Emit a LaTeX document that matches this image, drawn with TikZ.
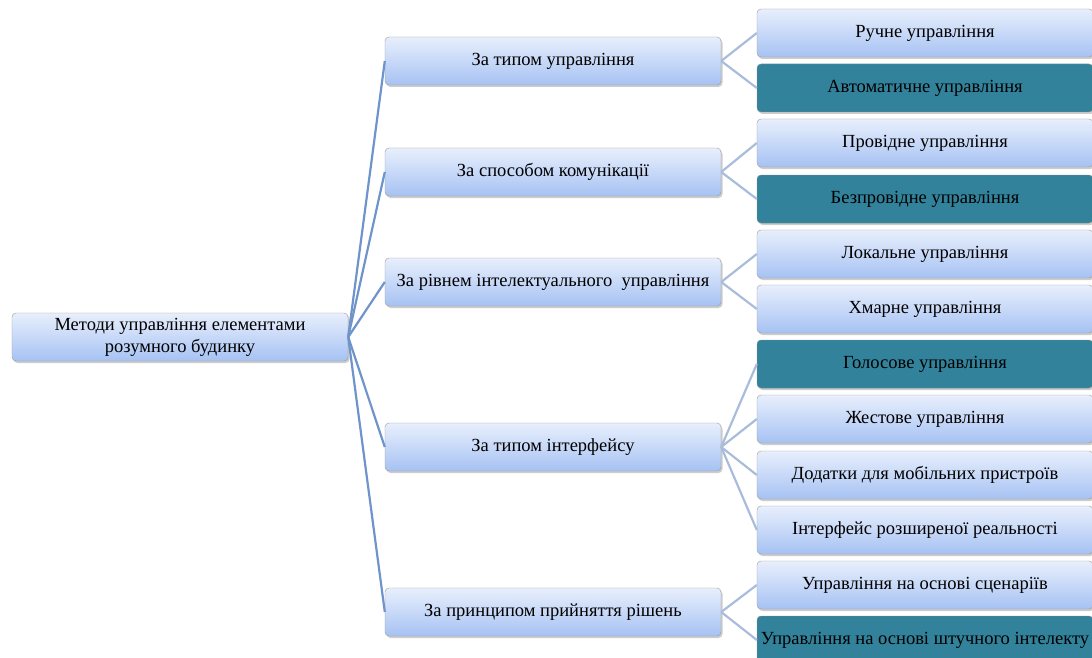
\documentclass[tikz,border=0pt]{standalone}
\usepackage{fontspec}
\setmainfont{Liberation Serif}
\usetikzlibrary{shadows}

\definecolor{boxtop}{HTML}{E8EFFC}
\definecolor{boxbot}{HTML}{A6C2F3}
\definecolor{tealbox}{HTML}{31829A}
\definecolor{rootlink}{HTML}{6F94CA}
\definecolor{leaflink}{HTML}{A9BDDB}

\tikzset{
  lightbox/.style={draw=gray!80, rounded corners=4pt, top color=boxtop, bottom color=boxbot,
    minimum width=336pt, minimum height=48pt, align=center, font=\fontsize{18.5}{22}\selectfont,
    drop shadow={shadow xshift=1.5pt, shadow yshift=-2pt, opacity=0.4}},
  darkbox/.style={lightbox, fill=tealbox, top color=tealbox, bottom color=tealbox},
  rootline/.style={draw=rootlink, line width=2.2pt},
  leafline/.style={draw=leaflink, line width=2.2pt}
}

\begin{document}
\begin{tikzpicture}[x=1pt, y=-1pt]
			\useasboundingbox (0,0) rectangle (1092,658);
			\clip (0,0) rectangle (1092,658);
			% root and groups
			\node[lightbox] (root) at (180,337) {Методи управління елементами\\розумного будинку};
			\node[lightbox] (g1) at (553,61) {За типом управління};
			\node[lightbox] (g2) at (553,172) {За способом комунікації};
			\node[lightbox] (g3) at (553,282) {За рівнем інтелектуального\ \ управління};
			\node[lightbox] (g4) at (553,447) {За типом інтерфейсу};
			\node[lightbox] (g5) at (553,612) {За принципом прийняття рішень};
			% leaves
			\node[lightbox] (l1) at (925,33) {Ручне управління};
			\node[darkbox] (l2) at (925,88) {Автоматичне управління};
			\node[lightbox] (l3) at (925,143) {Провідне управління};
			\node[darkbox] (l4) at (925,199) {Безпровідне управління};
			\node[lightbox] (l5) at (925,254) {Локальне управління};
			\node[lightbox] (l6) at (925,309) {Хмарне управління};
			\node[darkbox] (l7) at (925,364) {Голосове управління};
			\node[lightbox] (l8) at (925,419) {Жестове управління};
			\node[lightbox] (l9) at (925,475) {Додатки для мобільних пристроїв};
			\node[lightbox] (l10) at (925,530) {Інтерфейс розширеної реальності};
			\node[lightbox] (l11) at (925,585) {Управління на основі сценаріїв};
			\node[darkbox] (l12) at (925,640) {Управління на основі штучного інтелекту};
			% links
			\foreach \g in {1,...,5}
			\draw[rootline] (root.east) -- (g\g.west);
			\foreach \g/\l in {1/1,1/2,2/3,2/4,3/5,3/6,4/7,4/8,4/9,4/10,5/11,5/12}
			\draw[leafline] (g\g.east) -- (l\l.west);
		\end{tikzpicture}
\end{document}
